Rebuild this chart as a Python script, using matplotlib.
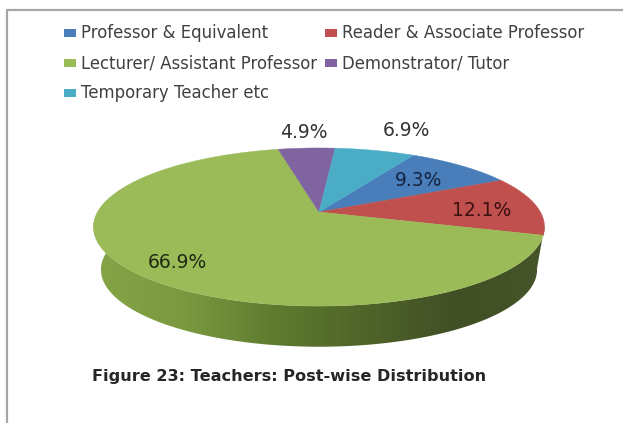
import numpy as np
import matplotlib
matplotlib.use("Agg")
import matplotlib.pyplot as plt
from matplotlib.colors import LinearSegmentedColormap
from matplotlib.patches import Polygon

categories = ["Professor & Equivalent", "Reader & Associate Professor",
              "Lecturer/ Assistant Professor", "Demonstrator/ Tutor", "Temporary Teacher etc"]
values = [9.3, 12.1, 66.9, 4.9, 6.9]
colors = ["#4a7ebb", "#c0504d", "#9bbb59", "#8064a2", "#4bacc6"]
labels = ["9.3%", "12.1%", "66.9%", "4.9%", "6.9%"]

START = 60.2  # rim angle where the blue slice begins, going clockwise
APEX = (319, 212)
A, B, K = 221.4, 76.2, 0.19
FONT = "DejaVu Sans"


def project(theta, scale_x=1.0, scale_y=1.0, drop=0.0):
    # tilted disc: the far edge comes out smaller than the near edge
    x = np.cos(np.radians(theta))
    y = np.sin(np.radians(theta))
    w = 1 + K * y
    return APEX[0] + scale_x * A * x / w, APEX[1] + drop - scale_y * B * y / w


fig = plt.figure(figsize=(6.23, 4.23), dpi=100)
ax = fig.add_axes([0, 0, 1, 1])
ax.set_xlim(0, 623)
ax.set_ylim(423, 0)
ax.axis("off")

# chart frame, open on the right and at the bottom
ax.plot([7, 7, 623], [423, 10, 10], color="#a6a6a6", lw=1.6)

# side of the pie
theta = np.linspace(-10, -190, 200)
tx, ty = project(theta)
bx, by = project(theta[::-1], 0.967, 0.975, 43)
side = Polygon(np.column_stack([np.r_[tx, bx], np.r_[ty, by]]), closed=True,
               facecolor="none", edgecolor="none")
ax.add_patch(side)
side_cmap = LinearSegmentedColormap.from_list(
    "side", ["#86a548", "#7b9a40", "#5f7c30", "#4f6429", "#414f25", "#46542a"])
grad = ax.imshow(np.linspace(0, 1, 256)[None, :], cmap=side_cmap, aspect="auto",
                 extent=[90, 548, 423, 0], zorder=1)
grad.set_clip_path(side)
ax.set_xlim(0, 623)
ax.set_ylim(423, 0)

# slices, clockwise from START
edges = START - np.r_[0, np.cumsum(values)] / np.sum(values) * 360
for i, color in enumerate(colors):
    theta = np.linspace(edges[i], edges[i + 1], 120)
    x, y = project(theta)
    ax.fill(np.r_[APEX[0], x], np.r_[APEX[1], y], color=color, lw=0.3, zorder=2)

# data labels
label_xy = [(419, 180), (482, 210), (177, 262), (304, 132), (406, 131)]
label_colors = ["#14233f", "#3d1012", "#1f2a12", "#333333", "#333333"]
for text, (lx, ly), c in zip(labels, label_xy, label_colors):
    ax.text(lx, ly, text, ha="center", va="center", fontsize=13.5, color=c,
            family=FONT, zorder=3)

# legend
legend_xy = [(64, 33), (325, 33), (64, 63), (325, 63), (64, 93)]
for name, color, (lx, ly) in zip(categories, colors, legend_xy):
    ax.fill([lx, lx + 12, lx + 12, lx], [ly - 4, ly - 4, ly + 4, ly + 4], color=color, lw=0, zorder=3)
    ax.text(lx + 17, ly, name, ha="left", va="center", fontsize=11.9, color="#404040",
            family=FONT, zorder=3)

ax.text(92, 376, "Figure 23: Teachers: Post-wise Distribution", ha="left", va="center",
        fontsize=11.6, fontweight="bold", color="#262626", family=FONT, zorder=3)

fig.savefig("out.png", dpi=100)
